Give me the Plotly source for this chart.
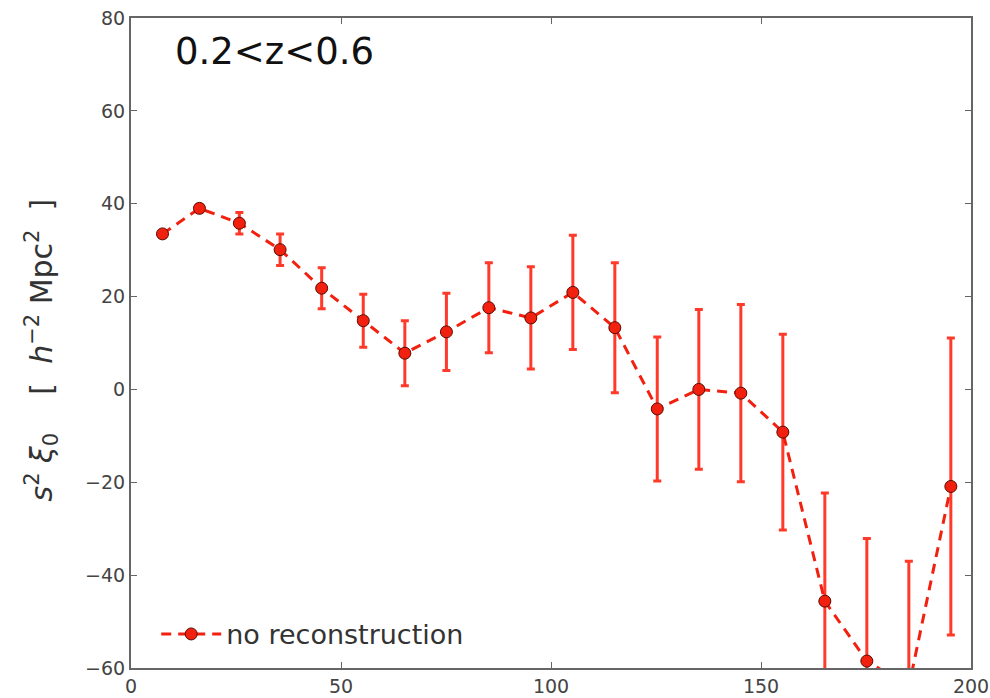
import plotly.graph_objects as go

# Monopole of the correlation function, s^2 xi_0, with no reconstruction
s_bins = [7.5, 16.3, 25.8, 35.5, 45.4, 55.3, 65.2, 75.1, 85.2, 95.2,
          105.2, 115.2, 125.3, 135.2, 145.2, 155.2, 165.2, 175.2, 185.2, 195.2]
s2_xi0 = [33.5, 39.0, 35.8, 30.1, 21.8, 14.8, 7.8, 12.4, 17.6, 15.4,
          20.9, 13.3, -4.2, 0.0, -0.8, -9.2, -45.6, -58.5, -64.0, -20.9]
sigma = [0.6, 0.8, 2.3, 3.4, 4.4, 5.7, 7.0, 8.3, 9.7, 11.0,
         12.3, 14.0, 15.5, 17.2, 19.1, 21.1, 23.3, 26.4, 27.0, 32.0]

x_ticks = [0, 50, 100, 150, 200]
y_ticks = [-60, -40, -20, 0, 20, 40, 60, 80]

red = "#f2200f"
axis_grey = "#666666"
text_grey = "#333333"

fig = go.Figure()
fig.add_trace(go.Scatter(
    x=s_bins, y=s2_xi0,
    mode="lines+markers",
    name="no reconstruction",
    line=dict(color=red, width=3, dash="10px,7px"),
    marker=dict(color=red, size=12, line=dict(color="#5a0a00", width=1)),
    error_y=dict(type="data", array=sigma, visible=True,
                 color="#ff3a2a", thickness=3, width=4),
))

axis_common = dict(
    showline=True, linecolor=axis_grey, linewidth=2, mirror="ticks",
    ticks="inside", ticklen=6, tickwidth=1, tickcolor=axis_grey,
    showgrid=False, zeroline=False, automargin=False,
    tickfont=dict(family="DejaVu Sans", size=19, color="#444444"),
)

fig.update_xaxes(range=[0, 200], tickvals=x_ticks, **axis_common)
fig.update_yaxes(range=[-60, 80], tickvals=y_ticks, **axis_common)

fig.add_annotation(
    xref="paper", yref="paper", x=0.05, y=0.949,
    xanchor="left", yanchor="middle", showarrow=False,
    text="0.2&lt;z&lt;0.6",
    font=dict(family="DejaVu Sans", size=37, color="#111111"),
)

fig.add_annotation(
    xref="paper", yref="paper", x=-0.106, y=0.49,
    xanchor="center", yanchor="middle", showarrow=False, textangle=-90,
    text=("<i>s</i><sup>2</sup> <i>ξ</i><sub>0</sub>"
          "    [  <i>h</i><sup>−2</sup> Mpc<sup>2</sup>  ]"),
    font=dict(family="DejaVu Sans", size=30, color=text_grey),
)

fig.update_layout(
    width=990, height=698,
    margin=dict(l=131, r=19, t=18, b=30),
    paper_bgcolor="white", plot_bgcolor="white",
    showlegend=True,
    legend=dict(
        x=0.03, y=0.014, xanchor="left", yanchor="bottom",
        bgcolor="rgba(0,0,0,0)", itemwidth=60,
        font=dict(family="DejaVu Sans", size=27, color=text_grey),
    ),
)

fig.write_html("out.html")
